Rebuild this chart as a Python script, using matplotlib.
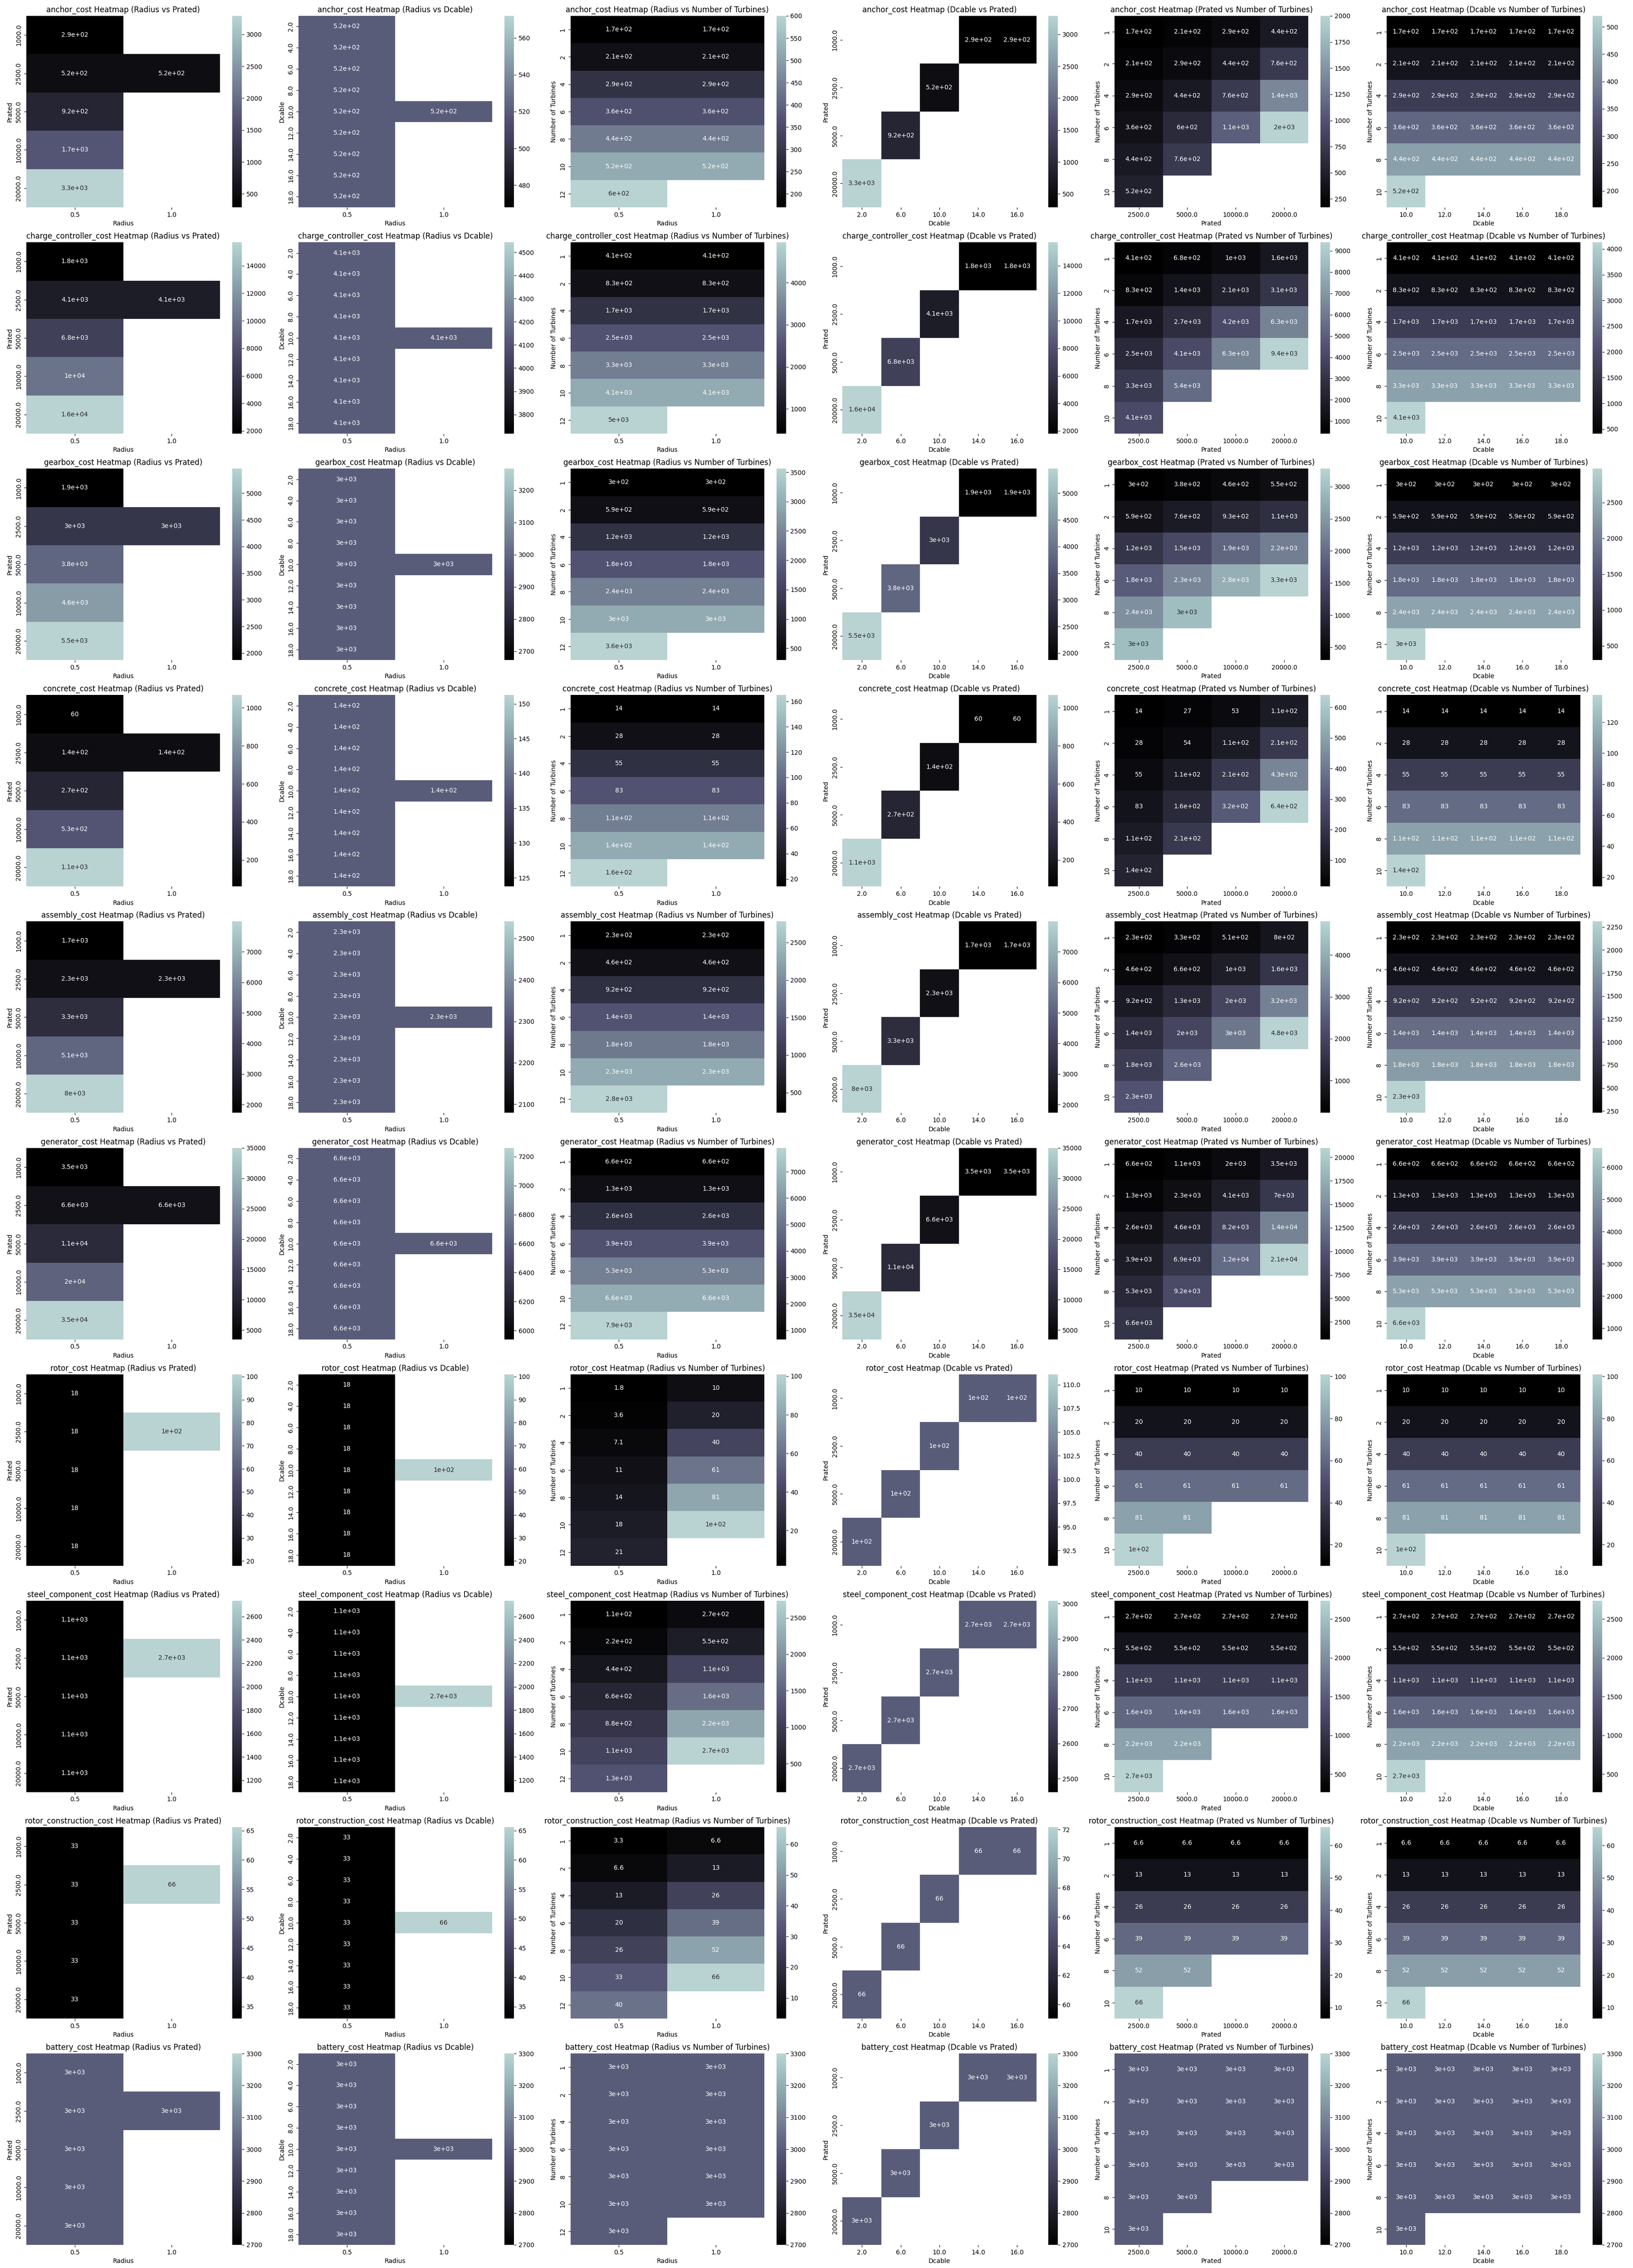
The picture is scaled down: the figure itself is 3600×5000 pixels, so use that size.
#heatmaps of each cost item against pairs of the design parameters

import numpy as np
import matplotlib
matplotlib.use('Agg')
import matplotlib.pyplot as plt
from matplotlib.colors import LinearSegmentedColormap, to_rgba_array

N = np.nan

# parameter levels on each kind of panel
radius = [0.5, 1.0]
prated_rp = [1000.0, 2500.0, 5000.0, 10000.0, 20000.0]
dcable_rd = [2.0, 4.0, 6.0, 8.0, 10.0, 12.0, 14.0, 16.0, 18.0]
turbines_rn = [1, 2, 4, 6, 8, 10, 12]
dcable_dp = [2.0, 6.0, 10.0, 14.0, 16.0]
prated_dp = [1000.0, 2500.0, 5000.0, 20000.0]
prated_pn = [2500.0, 5000.0, 10000.0, 20000.0]
turbines_pn = [1, 2, 4, 6, 8, 10]
dcable_dn = [10.0, 12.0, 14.0, 16.0, 18.0]
turbines_dn = [1, 2, 4, 6, 8, 10]

costs = ['anchor_cost', 'charge_controller_cost', 'gearbox_cost', 'concrete_cost',
         'assembly_cost', 'generator_cost', 'rotor_cost', 'steel_component_cost',
         'rotor_construction_cost', 'battery_cost']

# anchor_cost
anchor_rp = [[290, N], [520, 520], [920, N], [1700, N], [3290, N]]
anchor_rd = [[520, N], [520, N], [520, N], [520, N], [520, 520], [520, N], [520, N], [520, N], [520, N]]
anchor_rn = [[170, 170], [210, 210], [290, 290], [360, 360], [440, 440], [520, 520], [600, N]]
anchor_dp = [[N, N, N, 290, 290], [N, N, 520, N, N], [N, 920, N, N, N], [3290, N, N, N, N]]
anchor_pn = [[170, 210, 290, 440], [210, 290, 440, 760], [290, 440, 760, 1400],
             [360, 600, 1100, 2000], [440, 760, N, N], [520, N, N, N]]
anchor_dn = [[170, 170, 170, 170, 170], [210, 210, 210, 210, 210], [290, 290, 290, 290, 290],
             [360, 360, 360, 360, 360], [440, 440, 440, 440, 440], [520, N, N, N, N]]

# charge_controller_cost
cc_rp = [[1800, N], [4130, 4130], [6800, N], [10000, N], [15700, N]]
cc_rd = [[4130, N], [4130, N], [4130, N], [4130, N], [4130, 4130], [4130, N], [4130, N], [4130, N], [4130, N]]
cc_rn = [[410, 410], [830, 830], [1700, 1700], [2500, 2500], [3300, 3300], [4130, 4130], [4960, N]]
cc_dp = [[N, N, N, 1800, 1800], [N, N, 4130, N, N], [N, 6800, N, N, N], [15700, N, N, N, N]]
cc_pn = [[410, 680, 1000, 1600], [830, 1400, 2100, 3100], [1700, 2700, 4200, 6300],
         [2500, 4100, 6300, 9400], [3300, 5400, N, N], [4130, N, N, N]]
cc_dn = [[410, 410, 410, 410, 410], [830, 830, 830, 830, 830], [1700, 1700, 1700, 1700, 1700],
         [2500, 2500, 2500, 2500, 2500], [3300, 3300, 3300, 3300, 3300], [4130, N, N, N, N]]

# gearbox_cost
gb_rp = [[1870, N], [2970, 2970], [3800, N], [4600, N], [5460, N]]
gb_rd = [[2970, N], [2970, N], [2970, N], [2970, N], [2970, 2970], [2970, N], [2970, N], [2970, N], [2970, N]]
gb_rn = [[300, 300], [590, 590], [1200, 1200], [1800, 1800], [2400, 2400], [2970, 2970], [3560, N]]
gb_dp = [[N, N, N, 1870, 1870], [N, N, 2970, N, N], [N, 3800, N, N, N], [5460, N, N, N, N]]
gb_pn = [[300, 380, 460, 550], [590, 760, 930, 1100], [1200, 1500, 1900, 2200],
         [1800, 2300, 2800, 3280], [2400, 2970, N, N], [2970, N, N, N]]
gb_dn = [[300, 300, 300, 300, 300], [590, 590, 590, 590, 590], [1200, 1200, 1200, 1200, 1200],
         [1800, 1800, 1800, 1800, 1800], [2400, 2400, 2400, 2400, 2400], [2970, N, N, N, N]]

# concrete_cost
cn_rp = [[60, N], [137.5, 137.5], [270, N], [530, N], [1067, N]]
cn_rd = [[137.5, N], [137.5, N], [137.5, N], [137.5, N], [137.5, 137.5], [137.5, N], [137.5, N], [137.5, N], [137.5, N]]
cn_rn = [[14, 14], [28, 28], [55, 55], [83, 83], [110, 110], [137.5, 137.5], [165, N]]
cn_dp = [[N, N, N, 60, 60], [N, N, 137.5, N, N], [N, 270, N, N, N], [1067, N, N, N, N]]
cn_pn = [[14, 27, 53, 110], [28, 54, 110, 210], [55, 110, 210, 430],
         [83, 160, 320, 640], [110, 210, N, N], [137.5, N, N, N]]
cn_dn = [[14, 14, 14, 14, 14], [28, 28, 28, 28, 28], [55, 55, 55, 55, 55],
         [83, 83, 83, 83, 83], [110, 110, 110, 110, 110], [137.5, N, N, N, N]]

# assembly_cost
as_rp = [[1730, N], [2310, 2310], [3300, N], [5100, N], [7990, N]]
as_rd = [[2310, N], [2310, N], [2310, N], [2310, N], [2310, 2310], [2310, N], [2310, N], [2310, N], [2310, N]]
as_rn = [[230, 230], [460, 460], [920, 920], [1400, 1400], [1800, 1800], [2310, 2310], [2780, N]]
as_dp = [[N, N, N, 1730, 1730], [N, N, 2310, N, N], [N, 3300, N, N, N], [7990, N, N, N, N]]
as_pn = [[230, 330, 510, 800], [460, 660, 1000, 1600], [920, 1300, 2000, 3200],
         [1400, 2000, 3000, 4800], [1800, 2600, N, N], [2310, N, N, N]]
as_dn = [[230, 230, 230, 230, 230], [460, 460, 460, 460, 460], [920, 920, 920, 920, 920],
         [1400, 1400, 1400, 1400, 1400], [1800, 1800, 1800, 1800, 1800], [2310, N, N, N, N]]

# generator_cost
gn_rp = [[3500, N], [6600, 6600], [11000, N], [20000, N], [35000, N]]
gn_rd = [[6600, N], [6600, N], [6600, N], [6600, N], [6600, 6600], [6600, N], [6600, N], [6600, N], [6600, N]]
gn_rn = [[660, 660], [1300, 1300], [2600, 2600], [3900, 3900], [5300, 5300], [6600, 6600], [7900, N]]
gn_dp = [[N, N, N, 3500, 3500], [N, N, 6600, N, N], [N, 11000, N, N, N], [35000, N, N, N, N]]
gn_pn = [[660, 1100, 2000, 3500], [1300, 2300, 4100, 7000], [2600, 4600, 8200, 14000],
         [3900, 6900, 12000, 21000], [5300, 9200, N, N], [6600, N, N, N]]
gn_dn = [[660, 660, 660, 660, 660], [1300, 1300, 1300, 1300, 1300], [2600, 2600, 2600, 2600, 2600],
         [3900, 3900, 3900, 3900, 3900], [5300, 5300, 5300, 5300, 5300], [6600, N, N, N, N]]

# rotor_cost
rt_rp = [[18, N], [18, 101], [18, N], [18, N], [18, N]]
rt_rd = [[18, N], [18, N], [18, N], [18, N], [18, 101], [18, N], [18, N], [18, N], [18, N]]
rt_rn = [[1.8, 10], [3.6, 20], [7.1, 40], [11, 61], [14, 81], [18, 101], [21, N]]
rt_dp = [[N, N, N, 101, 101], [N, N, 101, N, N], [N, 101, N, N, N], [101, N, N, N, N]]
rt_pn = [[10, 10, 10, 10], [20, 20, 20, 20], [40, 40, 40, 40],
         [61, 61, 61, 61], [81, 81, N, N], [101, N, N, N]]
rt_dn = [[10, 10, 10, 10, 10], [20, 20, 20, 20, 20], [40, 40, 40, 40, 40],
         [61, 61, 61, 61, 61], [81, 81, 81, 81, 81], [101, N, N, N, N]]

# steel_component_cost
st_rp = [[1100, N], [1100, 2735], [1100, N], [1100, N], [1100, N]]
st_rd = [[1100, N], [1100, N], [1100, N], [1100, N], [1100, 2735], [1100, N], [1100, N], [1100, N], [1100, N]]
st_rn = [[110, 270], [220, 550], [440, 1100], [660, 1600], [880, 2200], [1100, 2735], [1300, N]]
st_dp = [[N, N, N, 2735, 2735], [N, N, 2735, N, N], [N, 2735, N, N, N], [2735, N, N, N, N]]
st_pn = [[270, 270, 270, 270], [550, 550, 550, 550], [1100, 1100, 1100, 1100],
         [1600, 1600, 1600, 1600], [2200, 2200, N, N], [2735, N, N, N]]
st_dn = [[270, 270, 270, 270, 270], [550, 550, 550, 550, 550], [1100, 1100, 1100, 1100, 1100],
         [1600, 1600, 1600, 1600, 1600], [2200, 2200, 2200, 2200, 2200], [2735, N, N, N, N]]

# rotor_construction_cost
rc_rp = [[33, N], [33, 65.6], [33, N], [33, N], [33, N]]
rc_rd = [[33, N], [33, N], [33, N], [33, N], [33, 65.6], [33, N], [33, N], [33, N], [33, N]]
rc_rn = [[3.3, 6.6], [6.6, 13], [13, 26], [20, 39], [26, 52], [33, 65.6], [40, N]]
rc_dp = [[N, N, N, 65.6, 65.6], [N, N, 65.6, N, N], [N, 65.6, N, N, N], [65.6, N, N, N, N]]
rc_pn = [[6.6, 6.6, 6.6, 6.6], [13, 13, 13, 13], [26, 26, 26, 26],
         [39, 39, 39, 39], [52, 52, N, N], [65.6, N, N, N]]
rc_dn = [[6.6, 6.6, 6.6, 6.6, 6.6], [13, 13, 13, 13, 13], [26, 26, 26, 26, 26],
         [39, 39, 39, 39, 39], [52, 52, 52, 52, 52], [65.6, N, N, N, N]]

# battery_cost
bt_rp = [[3000, N], [3000, 3000], [3000, N], [3000, N], [3000, N]]
bt_rd = [[3000, N], [3000, N], [3000, N], [3000, N], [3000, 3000], [3000, N], [3000, N], [3000, N], [3000, N]]
bt_rn = [[3000, 3000], [3000, 3000], [3000, 3000], [3000, 3000], [3000, 3000], [3000, 3000], [3000, N]]
bt_dp = [[N, N, N, 3000, 3000], [N, N, 3000, N, N], [N, 3000, N, N, N], [3000, N, N, N, N]]
bt_pn = [[3000, 3000, 3000, 3000], [3000, 3000, 3000, 3000], [3000, 3000, 3000, 3000],
         [3000, 3000, 3000, 3000], [3000, 3000, N, N], [3000, N, N, N]]
bt_dn = [[3000, 3000, 3000, 3000, 3000], [3000, 3000, 3000, 3000, 3000], [3000, 3000, 3000, 3000, 3000],
         [3000, 3000, 3000, 3000, 3000], [3000, 3000, 3000, 3000, 3000], [3000, N, N, N, N]]

tables = {
    'anchor_cost': [anchor_rp, anchor_rd, anchor_rn, anchor_dp, anchor_pn, anchor_dn],
    'charge_controller_cost': [cc_rp, cc_rd, cc_rn, cc_dp, cc_pn, cc_dn],
    'gearbox_cost': [gb_rp, gb_rd, gb_rn, gb_dp, gb_pn, gb_dn],
    'concrete_cost': [cn_rp, cn_rd, cn_rn, cn_dp, cn_pn, cn_dn],
    'assembly_cost': [as_rp, as_rd, as_rn, as_dp, as_pn, as_dn],
    'generator_cost': [gn_rp, gn_rd, gn_rn, gn_dp, gn_pn, gn_dn],
    'rotor_cost': [rt_rp, rt_rd, rt_rn, rt_dp, rt_pn, rt_dn],
    'steel_component_cost': [st_rp, st_rd, st_rn, st_dp, st_pn, st_dn],
    'rotor_construction_cost': [rc_rp, rc_rd, rc_rn, rc_dp, rc_pn, rc_dn],
    'battery_cost': [bt_rp, bt_rd, bt_rn, bt_dp, bt_pn, bt_dn],
}

# (x name, y name, x levels, y levels) for the six panels of a row
panels = [
    ('Radius', 'Prated', radius, prated_rp),
    ('Radius', 'Dcable', radius, dcable_rd),
    ('Radius', 'Number of Turbines', radius, turbines_rn),
    ('Dcable', 'Prated', dcable_dp, prated_dp),
    ('Prated', 'Number of Turbines', prated_pn, turbines_pn),
    ('Dcable', 'Number of Turbines', dcable_dn, turbines_dn),
]

# bone map cut before it turns white
cmap = LinearSegmentedColormap.from_list('bone_cut', plt.cm.bone(np.linspace(0, 0.8, 256)))


def luminance(color):
    rgb = to_rgba_array(color)[:, :3]
    rgb = np.where(rgb <= .03928, rgb / 12.92, ((rgb + .055) / 1.055) ** 2.4)
    return rgb.dot([.2126, .7152, .0722])[0]


def heatmap(fig, ax, values, xs, ys, xname, yname, title):
    data = np.ma.masked_invalid(np.array(values, dtype=float))
    ny, nx = data.shape
    mesh = ax.pcolormesh(np.arange(nx + 1), np.arange(ny + 1), data, cmap=cmap,
                         vmin=data.min(), vmax=data.max())
    ax.set_xlim(0, nx)
    ax.set_ylim(ny, 0)
    # colorbar widens the norm when all cells hold the same value
    cb = fig.colorbar(mesh, ax=ax)
    cb.outline.set_linewidth(0)
    for s in ax.spines.values():
        s.set_visible(False)

    ax.set_xticks(np.arange(nx) + 0.5)
    ax.set_xticklabels([str(x) for x in xs])
    ax.set_yticks(np.arange(ny) + 0.5)
    ax.set_yticklabels([str(y) for y in ys], rotation='vertical', va='center')
    ax.set_xlabel(xname)
    ax.set_ylabel(yname)
    ax.set_title(title)

    # cell labels, dark on light cells and white on dark ones
    for r in range(ny):
        for c in range(nx):
            if data.mask[r, c]:
                continue
            v = data[r, c]
            col = '.15' if luminance(mesh.to_rgba(v)) > .408 else 'w'
            ax.text(c + 0.5, r + 0.5, '{:.2g}'.format(v),
                    ha='center', va='center', color=col)


def main():
    fig, axes = plt.subplots(10, 6, figsize=(36, 50))
    fig.subplots_adjust(left=0.0161, right=0.9975, top=0.993, bottom=0.0102,
                        wspace=0.123, hspace=0.183)

    for i, cost in enumerate(costs):
        for j, (xname, yname, xs, ys) in enumerate(panels):
            heatmap(fig, axes[i, j], tables[cost][j], xs, ys, xname, yname,
                    f'{cost} Heatmap ({xname} vs {yname})')

    fig.savefig('out.png', dpi=100)


if __name__ == '__main__':
    main()
